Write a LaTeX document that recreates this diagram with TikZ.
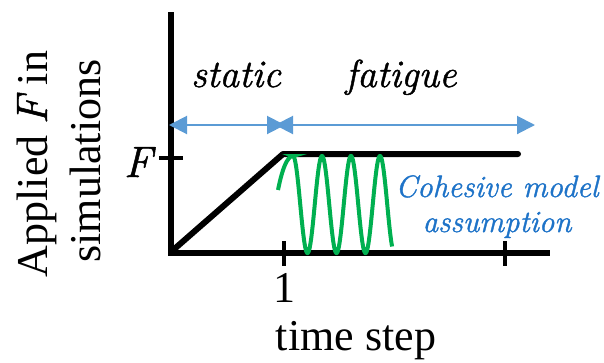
\documentclass[tikz,border=0pt]{standalone}
\usepackage{fontspec}
\setmainfont{Liberation Serif}
\newfontfamily\lmrfam{Latin Modern Roman}[FakeBold=1.2]
\newcommand{\itx}[1]{{\lmrfam\itshape #1}}
\usetikzlibrary{arrows.meta}
\definecolor{arrowblue}{RGB}{91,155,213}
\definecolor{textblue}{RGB}{30,115,200}
\definecolor{wavegreen}{RGB}{0,176,80}
\begin{document}
\begin{tikzpicture}[x=1pt,y=-1pt,
  axisline/.style={line width=6pt,black},
  tickline/.style={line width=4pt,black},
  loadline/.style={line width=6pt,black,line cap=round},
  span/.style={line width=2pt,arrowblue,{Triangle[length=18pt,width=18pt]}-{Triangle[length=18pt,width=18pt]}},
  wave/.style={line width=4pt,wavegreen},
  big/.style={font=\fontsize{44}{52}\selectfont,inner sep=0pt,anchor=base},
  mid/.style={font=\fontsize{39}{46}\selectfont\lmrfam\itshape,inner sep=0pt,anchor=base},
  note/.style={font=\fontsize{31}{38}\selectfont\lmrfam\itshape,text=textblue,inner sep=0pt,anchor=base}]
\useasboundingbox (0,0) rectangle (604,362);
% axes
\coordinate (ytop) at (171,12);
\coordinate (origin) at (171,252.5);
\coordinate (xend) at (550,252.5);
\draw[axisline,line join=miter] (ytop) -- (origin) -- (xend);
% ticks
\coordinate (fl) at (159,158); \coordinate (fr) at (183,158);
\draw[tickline] (fl) -- (fr);
\coordinate (t1a) at (284,241); \coordinate (t1b) at (284,266);
\draw[tickline] (t1a) -- (t1b);
\coordinate (t2a) at (505,241); \coordinate (t2b) at (505,266);
\draw[tickline] (t2a) -- (t2b);
% load history
\coordinate (ramp0) at (172,251);
\coordinate (ramp1) at (283,154);
\coordinate (hold1) at (518,154);
\draw[loadline,line join=round] (ramp0) -- (ramp1) -- (hold1);
% blue spans
\coordinate (s0) at (169,125); \coordinate (s1) at (285,125);
\coordinate (s2) at (275,125); \coordinate (s3) at (535,125);
\draw[span] (s0) -- (s1);
\draw[span] (s2) -- (s3);
% green wave
\coordinate (g0) at (278,190);
\draw[wave] (g0) .. controls (282,170) and (287,156) .. (293,156)
  -- plot[domain=90:1320,samples=300,variable=\t] ({285.75+0.0805556*\t},{204.5-48.5*sin(\t)});
% labels
\node[big] (ylab1) at (47,164) [rotate=90] {Applied \itx{F} in};
\node[big] (ylab2) at (100,161) [rotate=90] {simulations};
\node[big] (flab) at (138,177) {\itx{F}};
\node[big] (onelab) at (284,302) {1};
\node[big] (xlab) at (356,350) {time step};
\node[mid] (statlab) at (236,87) {static};
\node[mid] (fatlab) at (401,87) {fatigue};
\node[note] (coh1) at (497,197) {Cohesive model};
\node[note] (coh2) at (497,232) {assumption};
\end{tikzpicture}
\end{document}
